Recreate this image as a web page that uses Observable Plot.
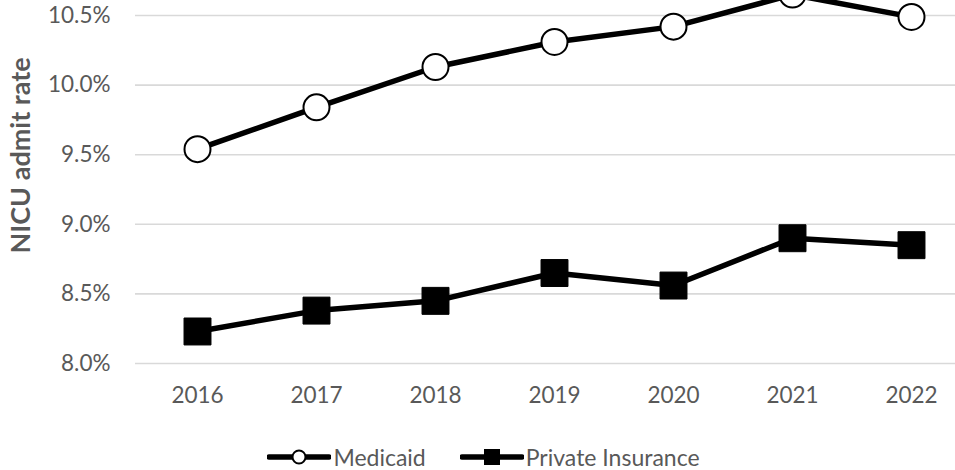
<!DOCTYPE html>
<html>
<head>
<meta charset="utf-8">
<script src="https://cdn.jsdelivr.net/npm/d3@7"></script>
<script src="https://cdn.jsdelivr.net/npm/@observablehq/plot@0.6"></script>
<style>
  html, body { margin: 0; padding: 0; background: #fff; }
  #chart { width: 955px; height: 470px; overflow: hidden; font-family: Lato, "Liberation Sans", sans-serif; }
  .legend { display: flex; justify-content: center; align-items: center; gap: 34px; height: 24px; padding-top: 25px; box-sizing: content-box; color: #595959; font-size: 23px; line-height: 1; margin-left: 12px; }
  .legend span.item { display: flex; align-items: center; gap: 2px; }
</style>
</head>
<body>
<div id="chart"></div>
<script>
const years = [2016, 2017, 2018, 2019, 2020, 2021, 2022];
const medicaid = [9.54, 9.84, 10.13, 10.31, 10.42, 10.65, 10.49];
const privateIns = [8.23, 8.38, 8.45, 8.65, 8.56, 8.90, 8.85];
const yTicks = [8.0, 8.5, 9.0, 9.5, 10.0, 10.5];
const seriesNames = ["Medicaid", "Private Insurance"];
const yTitle = "NICU admit rate";

const med = years.map((y, i) => ({year: y, value: medicaid[i], series: seriesNames[0]}));
const pri = years.map((y, i) => ({year: y, value: privateIns[i], series: seriesNames[1]}));

const grey = "#595959";

const plot = Plot.plot({
  width: 955,
  height: 420,
  marginLeft: 135,
  marginRight: 0,
  marginTop: 15,
  marginBottom: 57,
  style: {fontFamily: "Lato, 'Liberation Sans', sans-serif", fontSize: "22.5px", color: grey, background: "#fff"},
  x: {type: "point", domain: years, range: [194, 913.5], padding: 0, label: null},
  y: {domain: [8.0, 10.5], label: null},
  marks: [
    Plot.ruleY(yTicks, {stroke: "#d9d9d9", strokeWidth: 1.6}),
    Plot.axisY({ticks: yTicks, tickSize: 0, tickPadding: 25, tickFormat: d => d.toFixed(1) + "%", label: null, fill: grey}),
    Plot.axisX({tickSize: 0, tickPadding: 24, tickFormat: d => String(d), label: null, fill: grey}),
    Plot.text([yTitle], {frameAnchor: "left", dx: -114, dy: -34, rotate: -90, text: d => d, fontWeight: "bold", fontSize: 27, fill: grey, textAnchor: "middle"}),
    Plot.line(med, {x: "year", y: "value", stroke: "#000", strokeWidth: 5.5}),
    Plot.line(pri, {x: "year", y: "value", stroke: "#000", strokeWidth: 5.5}),
    Plot.dot(med, {x: "year", y: "value", r: 13, symbol: "circle", fill: "#fff", stroke: "#000", strokeWidth: 2}),
    Plot.dot(pri, {x: "year", y: "value", r: 15.2, symbol: "square", fill: "#000", stroke: "#000", strokeWidth: 1})
  ]
});
document.getElementById("chart").appendChild(plot);

const legend = document.createElement("div");
legend.className = "legend";
const mk = (name, sym) => {
  const item = document.createElement("span");
  item.className = "item";
  const marker = sym === "circle"
    ? `<svg width="64" height="20"><line x1="2" y1="10" x2="62" y2="10" stroke="#000" stroke-width="5.5" stroke-linecap="round"/><circle cx="32" cy="10" r="6.5" fill="#fff" stroke="#000" stroke-width="2"/></svg>`
    : `<svg width="64" height="20"><line x1="2" y1="10" x2="62" y2="10" stroke="#000" stroke-width="5.5" stroke-linecap="round"/><rect x="24" y="2" width="16" height="16" fill="#000"/></svg>`;
  item.innerHTML = marker + `<span>${name}</span>`;
  return item;
};
legend.appendChild(mk(seriesNames[0], "circle"));
legend.appendChild(mk(seriesNames[1], "square"));
document.getElementById("chart").appendChild(legend);
</script>
</body>
</html>
